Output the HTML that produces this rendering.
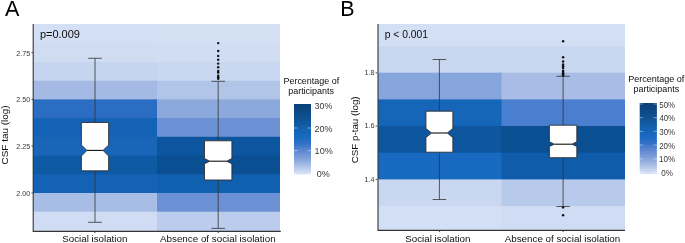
<!DOCTYPE html>
<html><head><meta charset="utf-8"><style>
html,body{margin:0;padding:0;background:#fff;}
body{width:685px;height:243px;overflow:hidden;}
svg{display:block;font-family:"Liberation Sans", sans-serif;will-change:transform;}
.wk{stroke:#333;stroke-width:0.8;}
.bx{fill:#fff;stroke:#2b2b2b;stroke-width:0.85;stroke-linejoin:miter;}
.md{stroke:#111;stroke-width:1.1;}
</style></head><body>
<svg width="685" height="243" viewBox="0 0 685 243">
<rect x="33" y="24" width="124.60" height="20.30" fill="#d3dff4"/>
<rect x="157" y="24" width="123" height="20.30" fill="#d4e0f4"/>
<rect x="33" y="43.3" width="124.60" height="19.70" fill="#cfdcf2"/>
<rect x="157" y="43.3" width="123" height="19.70" fill="#d1ddf3"/>
<rect x="33" y="62.0" width="124.60" height="19.70" fill="#c5d4ef"/>
<rect x="157" y="62.0" width="123" height="19.70" fill="#c9d7f0"/>
<rect x="33" y="80.7" width="124.60" height="19.70" fill="#a4b9e3"/>
<rect x="157" y="80.7" width="123" height="19.70" fill="#b1c5e9"/>
<rect x="33" y="99.4" width="124.60" height="19.70" fill="#2a6dc2"/>
<rect x="157" y="99.4" width="123" height="19.70" fill="#8ba9dd"/>
<rect x="33" y="118.1" width="124.60" height="19.70" fill="#1462b5"/>
<rect x="157" y="118.1" width="123" height="19.70" fill="#6b90d3"/>
<rect x="33" y="136.8" width="124.60" height="19.80" fill="#1966b9"/>
<rect x="157" y="136.8" width="123" height="19.80" fill="#0c569f"/>
<rect x="33" y="155.6" width="124.60" height="19.70" fill="#0e5aa5"/>
<rect x="157" y="155.6" width="123" height="19.70" fill="#0a4f92"/>
<rect x="33" y="174.3" width="124.60" height="19.70" fill="#1462b5"/>
<rect x="157" y="174.3" width="123" height="19.70" fill="#1060b0"/>
<rect x="33" y="193.0" width="124.60" height="19.70" fill="#a8bde6"/>
<rect x="157" y="193.0" width="123" height="19.70" fill="#6b90d3"/>
<rect x="33" y="211.7" width="124.60" height="19.30" fill="#d0dcf3"/>
<rect x="157" y="211.7" width="123" height="19.30" fill="#bbccec"/>
<rect x="378" y="24" width="124.10" height="23.40" fill="#d3dff4"/>
<rect x="501.5" y="24" width="123.5" height="23.40" fill="#d3dff4"/>
<rect x="378" y="46.4" width="124.10" height="27.30" fill="#c8d6f0"/>
<rect x="501.5" y="46.4" width="123.5" height="27.30" fill="#c8d6f0"/>
<rect x="378" y="72.7" width="124.10" height="27.70" fill="#86a5dc"/>
<rect x="501.5" y="72.7" width="123.5" height="27.70" fill="#a8bce5"/>
<rect x="378" y="99.4" width="124.10" height="27.60" fill="#1565b8"/>
<rect x="501.5" y="99.4" width="123.5" height="27.60" fill="#4a7fcf"/>
<rect x="378" y="126.0" width="124.10" height="27.70" fill="#0e579f"/>
<rect x="501.5" y="126.0" width="123.5" height="27.70" fill="#0b4f93"/>
<rect x="378" y="152.7" width="124.10" height="27.70" fill="#176ac0"/>
<rect x="501.5" y="152.7" width="123.5" height="27.70" fill="#0f5cab"/>
<rect x="378" y="179.4" width="124.10" height="27.60" fill="#c9d7f0"/>
<rect x="501.5" y="179.4" width="123.5" height="27.60" fill="#b8caeb"/>
<rect x="378" y="206.0" width="124.10" height="24.00" fill="#d3dff4"/>
<rect x="501.5" y="206.0" width="123.5" height="24.00" fill="#d0dcf3"/>
<line x1="95.0" y1="58.3" x2="95.0" y2="122.5" class="wk"/>
<line x1="95.0" y1="170.8" x2="95.0" y2="222.3" class="wk"/>
<line x1="88.2" y1="58.3" x2="101.8" y2="58.3" class="wk"/>
<line x1="88.2" y1="222.3" x2="101.8" y2="222.3" class="wk"/>
<path d="M81.4,122.5 L108.6,122.5 L108.6,145.0 L103.0,150.4 L108.6,156.0 L108.6,170.8 L81.4,170.8 L81.4,156.0 L87.0,150.4 L81.4,145.0 Z" class="bx"/>
<line x1="87.0" y1="150.4" x2="103.0" y2="150.4" class="md"/>
<line x1="218.2" y1="81.3" x2="218.2" y2="140.8" class="wk"/>
<line x1="218.2" y1="180.0" x2="218.2" y2="228.4" class="wk"/>
<line x1="211.39999999999998" y1="81.3" x2="225.0" y2="81.3" class="wk"/>
<line x1="211.39999999999998" y1="228.4" x2="225.0" y2="228.4" class="wk"/>
<path d="M204.5,140.8 L231.89999999999998,140.8 L231.89999999999998,158.5 L226.59999999999997,161.2 L231.89999999999998,163.8 L231.89999999999998,180.0 L204.5,180.0 L204.5,163.8 L209.8,161.2 L204.5,158.5 Z" class="bx"/>
<line x1="209.8" y1="161.2" x2="226.59999999999997" y2="161.2" class="md"/>
<circle cx="218.2" cy="43.1" r="1.22" fill="#111"/>
<circle cx="218.2" cy="51.0" r="1.22" fill="#111"/>
<circle cx="218.2" cy="55.9" r="1.22" fill="#111"/>
<circle cx="218.2" cy="59.8" r="1.22" fill="#111"/>
<circle cx="218.2" cy="63.6" r="1.22" fill="#111"/>
<circle cx="218.2" cy="67.3" r="1.22" fill="#111"/>
<circle cx="218.2" cy="70.9" r="1.22" fill="#111"/>
<circle cx="218.2" cy="72.5" r="1.22" fill="#111"/>
<circle cx="218.2" cy="75.8" r="1.22" fill="#111"/>
<circle cx="218.2" cy="77.3" r="1.22" fill="#111"/>
<circle cx="218.2" cy="78.8" r="1.22" fill="#111"/>
<line x1="439.4" y1="59.5" x2="439.4" y2="111.2" class="wk"/>
<line x1="439.4" y1="152.2" x2="439.4" y2="199.5" class="wk"/>
<line x1="432.59999999999997" y1="59.5" x2="446.2" y2="59.5" class="wk"/>
<line x1="432.59999999999997" y1="199.5" x2="446.2" y2="199.5" class="wk"/>
<path d="M425.95,111.2 L452.84999999999997,111.2 L452.84999999999997,128.5 L447.24999999999994,133.0 L452.84999999999997,137.6 L452.84999999999997,152.2 L425.95,152.2 L425.95,137.6 L431.55,133.0 L425.95,128.5 Z" class="bx"/>
<line x1="431.55" y1="133.0" x2="447.24999999999994" y2="133.0" class="md"/>
<line x1="563.1" y1="76.3" x2="563.1" y2="125.2" class="wk"/>
<line x1="563.1" y1="157.7" x2="563.1" y2="206.5" class="wk"/>
<line x1="556.3000000000001" y1="76.3" x2="569.9" y2="76.3" class="wk"/>
<line x1="556.3000000000001" y1="206.5" x2="569.9" y2="206.5" class="wk"/>
<path d="M549.4,125.2 L576.8000000000001,125.2 L576.8000000000001,141.8 L571.8000000000001,144.2 L576.8000000000001,146.4 L576.8000000000001,157.7 L549.4,157.7 L549.4,146.4 L554.4,144.2 L549.4,141.8 Z" class="bx"/>
<line x1="554.4" y1="144.2" x2="571.8000000000001" y2="144.2" class="md"/>
<circle cx="563.1" cy="41.3" r="1.22" fill="#111"/>
<circle cx="563.1" cy="57.2" r="1.22" fill="#111"/>
<circle cx="563.1" cy="61.5" r="1.22" fill="#111"/>
<circle cx="563.1" cy="64.5" r="1.22" fill="#111"/>
<circle cx="563.1" cy="66.3" r="1.22" fill="#111"/>
<circle cx="563.1" cy="68.0" r="1.22" fill="#111"/>
<circle cx="563.1" cy="70.8" r="1.22" fill="#111"/>
<circle cx="563.1" cy="72.0" r="1.22" fill="#111"/>
<circle cx="563.1" cy="73.2" r="1.22" fill="#111"/>
<circle cx="563.1" cy="74.4" r="1.22" fill="#111"/>
<circle cx="563.1" cy="75.5" r="1.22" fill="#111"/>
<circle cx="563.1" cy="207.4" r="1.22" fill="#111"/>
<circle cx="563.1" cy="215.2" r="1.22" fill="#111"/>
<g stroke="#363636" stroke-width="1.1" fill="none">
<path d="M33.2,24 V231.9 M32.7,231.35 H280.8"/>
<path d="M378.0,24 V230.9 M377.5,230.4 H625"/>
</g>
<path d="M31.5,52.7 H33 M31.5,99.4 H33 M31.5,146.0 H33 M31.5,193.0 H33 M375.6,72.9 H377 M375.6,126.0 H377 M375.6,179.4 H377 M94.9,231.9 V233.1 M218.2,231.9 V233.1 M439.6,230.9 V232.1 M563.1,230.9 V232.1" stroke="#333" stroke-width="0.9" fill="none"/>
<text x="16.24" y="55.55" font-size="7.7" fill="#383838" textLength="14.07" lengthAdjust="spacingAndGlyphs">2.75</text>
<text x="16.24" y="102.25" font-size="7.7" fill="#383838" textLength="14.04" lengthAdjust="spacingAndGlyphs">2.50</text>
<text x="16.24" y="148.85" font-size="7.7" fill="#383838" textLength="14.07" lengthAdjust="spacingAndGlyphs">2.25</text>
<text x="16.24" y="195.85" font-size="7.7" fill="#383838" textLength="14.04" lengthAdjust="spacingAndGlyphs">2.00</text>
<text x="364.45" y="75.05" font-size="6.8" fill="#383838" textLength="10.07" lengthAdjust="spacingAndGlyphs">1.8</text>
<text x="364.45" y="128.25" font-size="6.8" fill="#383838" textLength="10.07" lengthAdjust="spacingAndGlyphs">1.6</text>
<text x="364.46" y="181.55" font-size="6.8" fill="#383838" textLength="9.96" lengthAdjust="spacingAndGlyphs">1.4</text>
<text x="62.25" y="241.9" font-size="9.9" fill="#0d0d0d" textLength="65.08" lengthAdjust="spacingAndGlyphs">Social isolation</text>
<text x="159.98" y="241.9" font-size="9.9" fill="#0d0d0d" textLength="115.65" lengthAdjust="spacingAndGlyphs">Absence of social isolation</text>
<text x="405.15" y="241.6" font-size="9.9" fill="#0d0d0d" textLength="65.38" lengthAdjust="spacingAndGlyphs">Social isolation</text>
<text x="504.68" y="241.6" font-size="9.9" fill="#0d0d0d" textLength="115.55" lengthAdjust="spacingAndGlyphs">Absence of social isolation</text>
<text transform="translate(8.0,164.40) rotate(-90)" x="0" y="0" font-size="9.6" fill="#0d0d0d" textLength="58.91" lengthAdjust="spacingAndGlyphs">CSF tau (log)</text>
<text transform="translate(357.9,163.29) rotate(-90)" x="0" y="0" font-size="9.6" fill="#0d0d0d" textLength="66.91" lengthAdjust="spacingAndGlyphs">CSF p-tau (log)</text>
<text x="5.06" y="15.6" font-size="21.2" fill="#000" textLength="14.41" lengthAdjust="spacingAndGlyphs">A</text>
<text x="340.34" y="15.6" font-size="21.2" fill="#000" textLength="14.29" lengthAdjust="spacingAndGlyphs">B</text>
<text x="39.90" y="37.7" font-size="10.6" fill="#0d0d0d" textLength="40.04" lengthAdjust="spacingAndGlyphs">p=0.009</text>
<text x="384.64" y="37.7" font-size="10.4" fill="#0d0d0d" textLength="43.46" lengthAdjust="spacingAndGlyphs">p &lt; 0.001</text>
<defs><linearGradient id="gA" x1="0" y1="1" x2="0" y2="0">
<stop offset="0" stop-color="#dce5f6"/>
<stop offset="0.1" stop-color="#b5c7ea"/>
<stop offset="0.2" stop-color="#8aa8dc"/>
<stop offset="0.33" stop-color="#6189d2"/>
<stop offset="0.45" stop-color="#2e70c6"/>
<stop offset="0.52" stop-color="#1a6bc2"/>
<stop offset="0.65" stop-color="#1462b0"/>
<stop offset="0.8" stop-color="#0e5192"/>
<stop offset="1" stop-color="#0b3f77"/>
</linearGradient></defs>
<rect x="294" y="104" width="17.00" height="70.50" fill="url(#gA)"/>
<path d="M294,128.0 h3.4 M311,128.0 h-3.4" stroke="#fff" stroke-opacity="0.55" stroke-width="0.8"/>
<path d="M294,150.6 h3.4 M311,150.6 h-3.4" stroke="#fff" stroke-opacity="0.55" stroke-width="0.8"/>
<path d="M294,173.2 h3.4 M311,173.2 h-3.4" stroke="#fff" stroke-opacity="0.55" stroke-width="0.8"/>
<text x="314.56" y="108.8" font-size="8.3" fill="#383838" textLength="17.86" lengthAdjust="spacingAndGlyphs">30%</text>
<text x="314.45" y="131.6" font-size="8.3" fill="#383838" textLength="17.97" lengthAdjust="spacingAndGlyphs">20%</text>
<text x="314.61" y="154.2" font-size="8.3" fill="#383838" textLength="18.21" lengthAdjust="spacingAndGlyphs">10%</text>
<text x="316.84" y="176.8" font-size="8.3" fill="#383838" textLength="13.08" lengthAdjust="spacingAndGlyphs">0%</text>
<text x="283.47" y="83.8" font-size="9.0" fill="#0d0d0d" textLength="55.72" lengthAdjust="spacingAndGlyphs">Percentage of</text>
<text x="288.23" y="93.9" font-size="9.0" fill="#0d0d0d" textLength="45.69" lengthAdjust="spacingAndGlyphs">participants</text>
<defs><linearGradient id="gB" x1="0" y1="1" x2="0" y2="0">
<stop offset="0" stop-color="#dce5f6"/>
<stop offset="0.1" stop-color="#b5c7ea"/>
<stop offset="0.2" stop-color="#8aa8dc"/>
<stop offset="0.33" stop-color="#6189d2"/>
<stop offset="0.45" stop-color="#2e70c6"/>
<stop offset="0.52" stop-color="#1a6bc2"/>
<stop offset="0.65" stop-color="#1462b0"/>
<stop offset="0.8" stop-color="#0e5192"/>
<stop offset="1" stop-color="#0b3f77"/>
</linearGradient></defs>
<rect x="639.7" y="103" width="17.20" height="71.10" fill="url(#gB)"/>
<path d="M639.7,104.0 h3.4 M656.9,104.0 h-3.4" stroke="#fff" stroke-opacity="0.55" stroke-width="0.8"/>
<path d="M639.7,117.7 h3.4 M656.9,117.7 h-3.4" stroke="#fff" stroke-opacity="0.55" stroke-width="0.8"/>
<path d="M639.7,131.4 h3.4 M656.9,131.4 h-3.4" stroke="#fff" stroke-opacity="0.55" stroke-width="0.8"/>
<path d="M639.7,145.1 h3.4 M656.9,145.1 h-3.4" stroke="#fff" stroke-opacity="0.55" stroke-width="0.8"/>
<path d="M639.7,158.8 h3.4 M656.9,158.8 h-3.4" stroke="#fff" stroke-opacity="0.55" stroke-width="0.8"/>
<path d="M639.7,172.5 h3.4 M656.9,172.5 h-3.4" stroke="#fff" stroke-opacity="0.55" stroke-width="0.8"/>
<text x="659.28" y="107.6" font-size="8.3" fill="#383838" textLength="15.80" lengthAdjust="spacingAndGlyphs">50%</text>
<text x="659.43" y="121.3" font-size="8.3" fill="#383838" textLength="15.65" lengthAdjust="spacingAndGlyphs">40%</text>
<text x="659.30" y="135.0" font-size="8.3" fill="#383838" textLength="15.78" lengthAdjust="spacingAndGlyphs">30%</text>
<text x="659.20" y="148.7" font-size="8.3" fill="#383838" textLength="15.88" lengthAdjust="spacingAndGlyphs">20%</text>
<text x="658.99" y="162.4" font-size="8.3" fill="#383838" textLength="16.10" lengthAdjust="spacingAndGlyphs">10%</text>
<text x="661.28" y="176.1" font-size="8.3" fill="#383838" textLength="11.60" lengthAdjust="spacingAndGlyphs">0%</text>
<text x="628.16" y="81.9" font-size="9.0" fill="#0d0d0d" textLength="56.13" lengthAdjust="spacingAndGlyphs">Percentage of</text>
<text x="633.53" y="91.8" font-size="9.0" fill="#0d0d0d" textLength="45.59" lengthAdjust="spacingAndGlyphs">participants</text>
</svg>
</body></html>
